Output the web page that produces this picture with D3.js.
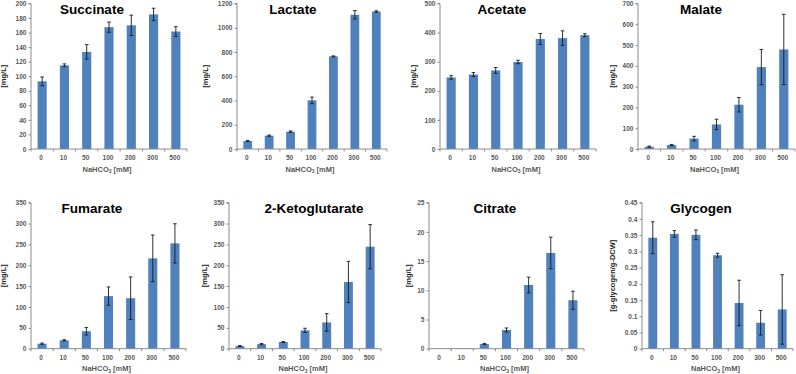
<!DOCTYPE html>
<html><head><meta charset="utf-8">
<script src="https://cdn.jsdelivr.net/npm/d3@7"></script>
<style>
html,body{margin:0;padding:0;background:#fff;}
svg{display:block;font-family:Arial,"Liberation Sans",sans-serif;}
</style></head>
<body>
<svg id="chart" width="796" height="374"></svg>
<script>
const categories = ["0","10","50","100","200","300","500"];

const succinate     = [93, 115, 133.5, 167.5, 170, 185, 161.5];
const succinateErr  = [6, 2, 10, 7, 14, 8.5, 6.7];
const lactate       = [66, 110, 143, 401, 764, 1107, 1134];
const lactateErr    = [5, 5, 6, 27, 4, 34, 6];
const acetate       = [246, 256, 270, 299, 378, 381, 391];
const acetateErr    = [6, 7, 10, 6, 19, 25, 5];
const malate        = [11, 19, 50, 118, 213, 394, 479];
const malateErr     = [3, 3, 11, 25, 35, 85, 169];
const fumarate      = [12, 20, 42, 126, 121, 216.5, 252.5];
const fumarateErr   = [1.5, 1.5, 9, 22, 51, 56, 47];
const ketoglutarate = [6.4, 11, 16, 44, 63, 160, 244.5];
const ketoglutarateErr = [1, 1.5, 1, 5, 21, 49.5, 53];
const citrate       = [0, 0.02, 0.8, 3.2, 10.9, 16.4, 8.3];
const citrateErr    = [0, 0, 0.1, 0.35, 1.35, 2.7, 1.55];
const glycogen      = [0.342, 0.354, 0.351, 0.288, 0.141, 0.080, 0.121];
const glycogenErr   = [0.049, 0.01, 0.015, 0.006, 0.07, 0.038, 0.107];

const succinateTicks = [0,20,40,60,80,100,120,140,160,180,200];
const lactateTicks   = [0,200,400,600,800,1000,1200];
const acetateTicks   = [0,100,200,300,400,500];
const malateTicks    = [0,100,200,300,400,500,600,700];
const fumarateTicks  = [0,50,100,150,200,250,300,350];
const ketoTicks      = [0,50,100,150,200,250,300,350];
const citrateTicks   = [0,5,10,15,20,25];
const glycogenTicks  = [0,0.05,0.1,0.15,0.2,0.25,0.3,0.35,0.4,0.45];

const titles = ["Succinate","Lactate","Acetate","Malate","Fumarate","2-Ketoglutarate","Citrate","Glycogen"];
const yLabels = ["[mg/L]","[mg/L]","[mg/L]","[mg/L]","[mg/L]","[mg/L]","[mg/L]","[g-glycogen/g-DCW]"];

const panels = [
  {title:titles[0], ylab:yLabels[0], v:succinate, e:succinateErr, t:succinateTicks, x0:31, x1:187, y0:3.5, y1:149, tx:92, labDx:27.5},
  {title:titles[1], ylab:yLabels[1], v:lactate, e:lactateErr, t:lactateTicks, x0:237, x1:387, y0:3.5, y1:149, tx:293, labDx:32},
  {title:titles[2], ylab:yLabels[2], v:acetate, e:acetateErr, t:acetateTicks, x0:440, x1:596, y0:3.5, y1:149, tx:502, labDx:26.5},
  {title:titles[3], ylab:yLabels[3], v:malate, e:malateErr, t:malateTicks, x0:638, x1:795, y0:3.5, y1:149, tx:701, labDx:26},
  {title:titles[4], ylab:yLabels[4], v:fumarate, e:fumarateErr, t:fumarateTicks, x0:31, x1:186, y0:202.7, y1:348.7, tx:92, labDx:27.5},
  {title:titles[5], ylab:yLabels[5], v:ketoglutarate, e:ketoglutarateErr, t:ketoTicks, x0:229, x1:381, y0:202.7, y1:348.7, tx:314, labDx:25},
  {title:titles[6], ylab:yLabels[6], v:citrate, e:citrateErr, t:citrateTicks, x0:429, x1:584, y0:202.7, y1:348.7, tx:495, labDx:21},
  {title:titles[7], ylab:yLabels[7], v:glycogen, e:glycogenErr, t:glycogenTicks, x0:642, x1:793, y0:202.7, y1:348.7, tx:701, labDx:30}
];

const svg = d3.select("#chart");
const axisColor = "#8c8c8c";
const barColor = "#4f81bd";

panels.forEach(p => {
  const g = svg.append("g");
  const x = d3.scaleBand().domain(categories).range([p.x0, p.x1]).paddingInner(0).paddingOuter(0);
  const tmax = p.t[p.t.length-1];
  const y = d3.scaleLinear().domain([0, tmax]).range([p.y1, p.y0]);
  const bw = x.bandwidth()*0.41;

  // bars
  g.selectAll("rect.bar").data(p.v).join("rect")
    .attr("class","bar")
    .attr("x",(d,i)=>x(categories[i]) + x.bandwidth()/2 - bw/2)
    .attr("width",bw)
    .attr("y",d=>y(d))
    .attr("height",d=>Math.max(0, y(0)-y(d)))
    .attr("fill",barColor);

  // error bars
  const eg = g.selectAll("g.err").data(p.v).join("g").attr("class","err");
  eg.each(function(d,i){
    const e = p.e[i];
    if (!(e>0)) return;
    const cx = x(categories[i]) + x.bandwidth()/2;
    const s = d3.select(this);
    const yt = y(d+e), yb = y(Math.max(0,d-e));
    s.append("line").attr("x1",cx).attr("x2",cx).attr("y1",yt).attr("y2",yb);
    s.append("line").attr("x1",cx-1.8).attr("x2",cx+1.8).attr("y1",yt).attr("y2",yt);
    s.append("line").attr("x1",cx-1.8).attr("x2",cx+1.8).attr("y1",yb).attr("y2",yb);
    s.selectAll("line").attr("stroke","#1a1a1a").attr("stroke-width",0.9);
  });

  // y axis
  const yAxis = d3.axisLeft(y).tickValues(p.t).tickSize(2.5).tickPadding(2)
    .tickFormat(d => String(+d.toFixed(4)));
  const ya = g.append("g").attr("transform",`translate(${p.x0},0)`).call(yAxis);
  ya.select(".domain").attr("stroke",axisColor).attr("d",`M-2.5,${p.y0}H0V${p.y1}`);
  ya.selectAll(".tick line").attr("stroke",axisColor);
  ya.selectAll(".tick text").attr("fill","#333").attr("font-size","6.6px")
    .attr("font-family","Arial,'Liberation Sans',sans-serif").attr("font-weight","bold").attr("fill-opacity",0.85);

  // x axis
  const xa = g.append("g").attr("transform",`translate(0,${p.y1})`);
  xa.append("line").attr("x1",p.x0).attr("x2",p.x1).attr("y1",0).attr("y2",0).attr("stroke",axisColor);
  const bounds = categories.map(c=>x(c)).concat([p.x1]);
  xa.selectAll("line.xt").data(bounds).join("line").attr("class","xt")
    .attr("x1",d=>d).attr("x2",d=>d).attr("y1",0).attr("y2",2.5).attr("stroke",axisColor);
  xa.selectAll("text.xl").data(categories).join("text").attr("class","xl")
    .attr("x",d=>x(d)+x.bandwidth()/2 - 1)
    .attr("y",11)
    .attr("text-anchor","middle")
    .attr("font-size","6.6px").attr("font-weight","bold").attr("fill","#333").attr("fill-opacity",0.85)
    .text(d=>d);

  // x label
  const xl = g.append("text")
    .attr("x",(p.x0+p.x1)/2 - 2).attr("y",p.y1+22.5)
    .attr("text-anchor","middle").attr("font-size","7.5px").attr("font-weight","bold").attr("fill","#333").attr("fill-opacity",0.85);
  xl.append("tspan").text("NaHCO");
  xl.append("tspan").attr("font-size","5px").attr("dy",1.8).text("3");
  xl.append("tspan").attr("dy",-1.8).text(" [mM]");

  // y label
  const ym = (p.y0+p.y1)/2;
  g.append("text")
    .attr("transform",`translate(${p.x0-p.labDx},${ym}) rotate(-90)`)
    .attr("text-anchor","middle").attr("dy","0.35em")
    .attr("font-size","7.5px").attr("font-weight","bold").attr("fill","#222")
    .text(p.ylab);

  // title
  g.append("text")
    .attr("x",p.tx).attr("y",p.y0+10.5)
    .attr("text-anchor","middle").attr("font-size","13.5px").attr("font-weight","bold").attr("fill","#000")
    .text(p.title);
});
</script>
</body></html>
